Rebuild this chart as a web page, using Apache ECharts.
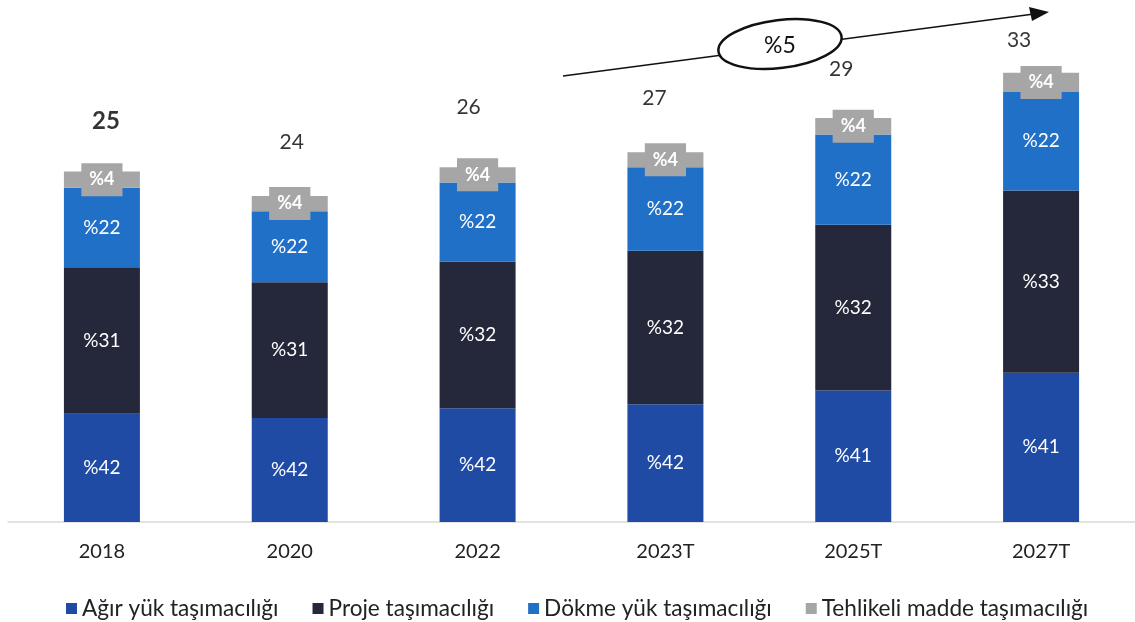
<!DOCTYPE html>
<html>
<head>
<meta charset="utf-8">
<script src="https://cdn.jsdelivr.net/npm/echarts@6/dist/echarts.min.js"></script>
<style>
  html, body { margin: 0; padding: 0; background: #fff; }
  #chart { width: 1135px; height: 622px; }
</style>
</head>
<body>
<div id="chart"></div>
<script>
// kategoriler
const years = ["2018", "2020", "2022", "2023T", "2025T", "2027T"];
// segment değerleri (çubuk yüksekliklerinden okundu)
const agirYuk = [7.9, 7.6, 8.3, 8.6, 9.6, 10.9];
const proje = [10.7, 9.9, 10.7, 11.2, 12.1, 13.3];
const dokme = [5.8, 5.2, 5.8, 6.1, 6.6, 7.2];
const tehlikeli = [1.2, 1.1, 1.1, 1.1, 1.2, 1.4];
// etiketler
const agirYukPct = ["%42", "%42", "%42", "%42", "%41", "%41"];
const projePct = ["%31", "%31", "%32", "%32", "%32", "%33"];
const dokmePct = ["%22", "%22", "%22", "%22", "%22", "%22"];
const tehlikeliPct = ["%4", "%4", "%4", "%4", "%4", "%4"];
const totals = [25, 24, 26, 27, 29, 33];
const cagr = "%5";

const font = "Lato";
const colors = ["#1f4ba5", "#25273a", "#2170c8", "#a6a6a6"];

// toplam etiketlerinin konumu
const totalOffsets = [[4, -50], [2, -54], [-9, -60], [-11, -54], [-12, -49], [-22, -33]];

const chart = echarts.init(document.getElementById("chart"));

function segLabel(arr) {
  return {
    show: true,
    position: "inside",
    color: "#fff",
    fontFamily: font,
    fontSize: 19,
    formatter: (p) => arr[p.dataIndex],
  };
}

const stackTops = years.map((_, i) => agirYuk[i] + proje[i] + dokme[i] + tehlikeli[i]);

const option = {
  backgroundColor: "#fff",
  animation: false,
  color: colors,
  grid: { left: 8, width: 1130, top: 29, bottom: 100 },
  legend: {
    top: 592,
    left: 61,
    icon: "rect",
    itemWidth: 11,
    itemHeight: 11,
    itemGap: 34,
    textStyle: { fontFamily: font, fontSize: 22.6, color: "#222" },
    data: ["Ağır yük taşımacılığı", "Proje taşımacılığı", "Dökme yük taşımacılığı", "Tehlikeli madde taşımacılığı"],
  },
  xAxis: {
    type: "category",
    data: years,
    axisTick: { show: false },
    axisLine: { lineStyle: { color: "#d9d9d9", width: 1.5 } },
    axisLabel: { margin: 20, fontFamily: font, fontSize: 20, color: "#222" },
  },
  yAxis: { type: "value", min: 0, max: 36, show: false, splitLine: { show: false } },
  series: [
    { name: "Ağır yük taşımacılığı", type: "bar", stack: "s", barWidth: 76, data: agirYuk, label: segLabel(agirYukPct) },
    { name: "Proje taşımacılığı", type: "bar", stack: "s", data: proje, label: segLabel(projePct) },
    { name: "Dökme yük taşımacılığı", type: "bar", stack: "s", data: dokme, label: segLabel(dokmePct) },
    {
      name: "Tehlikeli madde taşımacılığı", type: "bar", stack: "s", data: tehlikeli,
      label: {
        show: true,
        position: "inside",
        color: "#fff",
        fontFamily: font,
        fontWeight: "bold",
        fontSize: 18,
        backgroundColor: "#a6a6a6",
        padding: [8, 8, 7, 8],
        formatter: (p) => tehlikeliPct[p.dataIndex],
      },
    },
    {
      name: "Toplam",
      type: "scatter",
      symbolSize: 0,
      silent: true,
      data: stackTops.map((v, i) => ({
        value: v,
        label: {
          offset: totalOffsets[i],
          fontSize: i === 0 ? 24 : 21,
          fontWeight: i === 0 ? "bold" : "normal",
        },
      })),
      label: {
        show: true,
        position: "inside",
        color: "#000",
        fontFamily: font,
        formatter: (p) => String(totals[p.dataIndex]),
      },
    },
  ],
  graphic: [
    {
      type: "line",
      shape: { x1: 563, y1: 76, x2: 1034, y2: 14 },
      style: { stroke: "#111", lineWidth: 1.5 },
      z: 10,
    },
    {
      type: "polygon",
      shape: { points: [[1049, 12], [1029, 7], [1032, 21]] },
      style: { fill: "#111" },
      z: 10,
    },
    {
      type: "ellipse",
      shape: { cx: 0, cy: 0, rx: 62, ry: 24 },
      x: 780, y: 44,
      rotation: 0.12,
      style: { fill: "#fff", stroke: "#111", lineWidth: 2.5 },
      z: 11,
    },
    {
      type: "text",
      x: 780, y: 46,
      style: {
        text: cagr,
        fontFamily: font,
        fontSize: 23,
        fill: "#111",
        align: "center",
        verticalAlign: "middle",
      },
      z: 12,
    },
  ],
};

chart.setOption(option);
</script>
</body>
</html>
